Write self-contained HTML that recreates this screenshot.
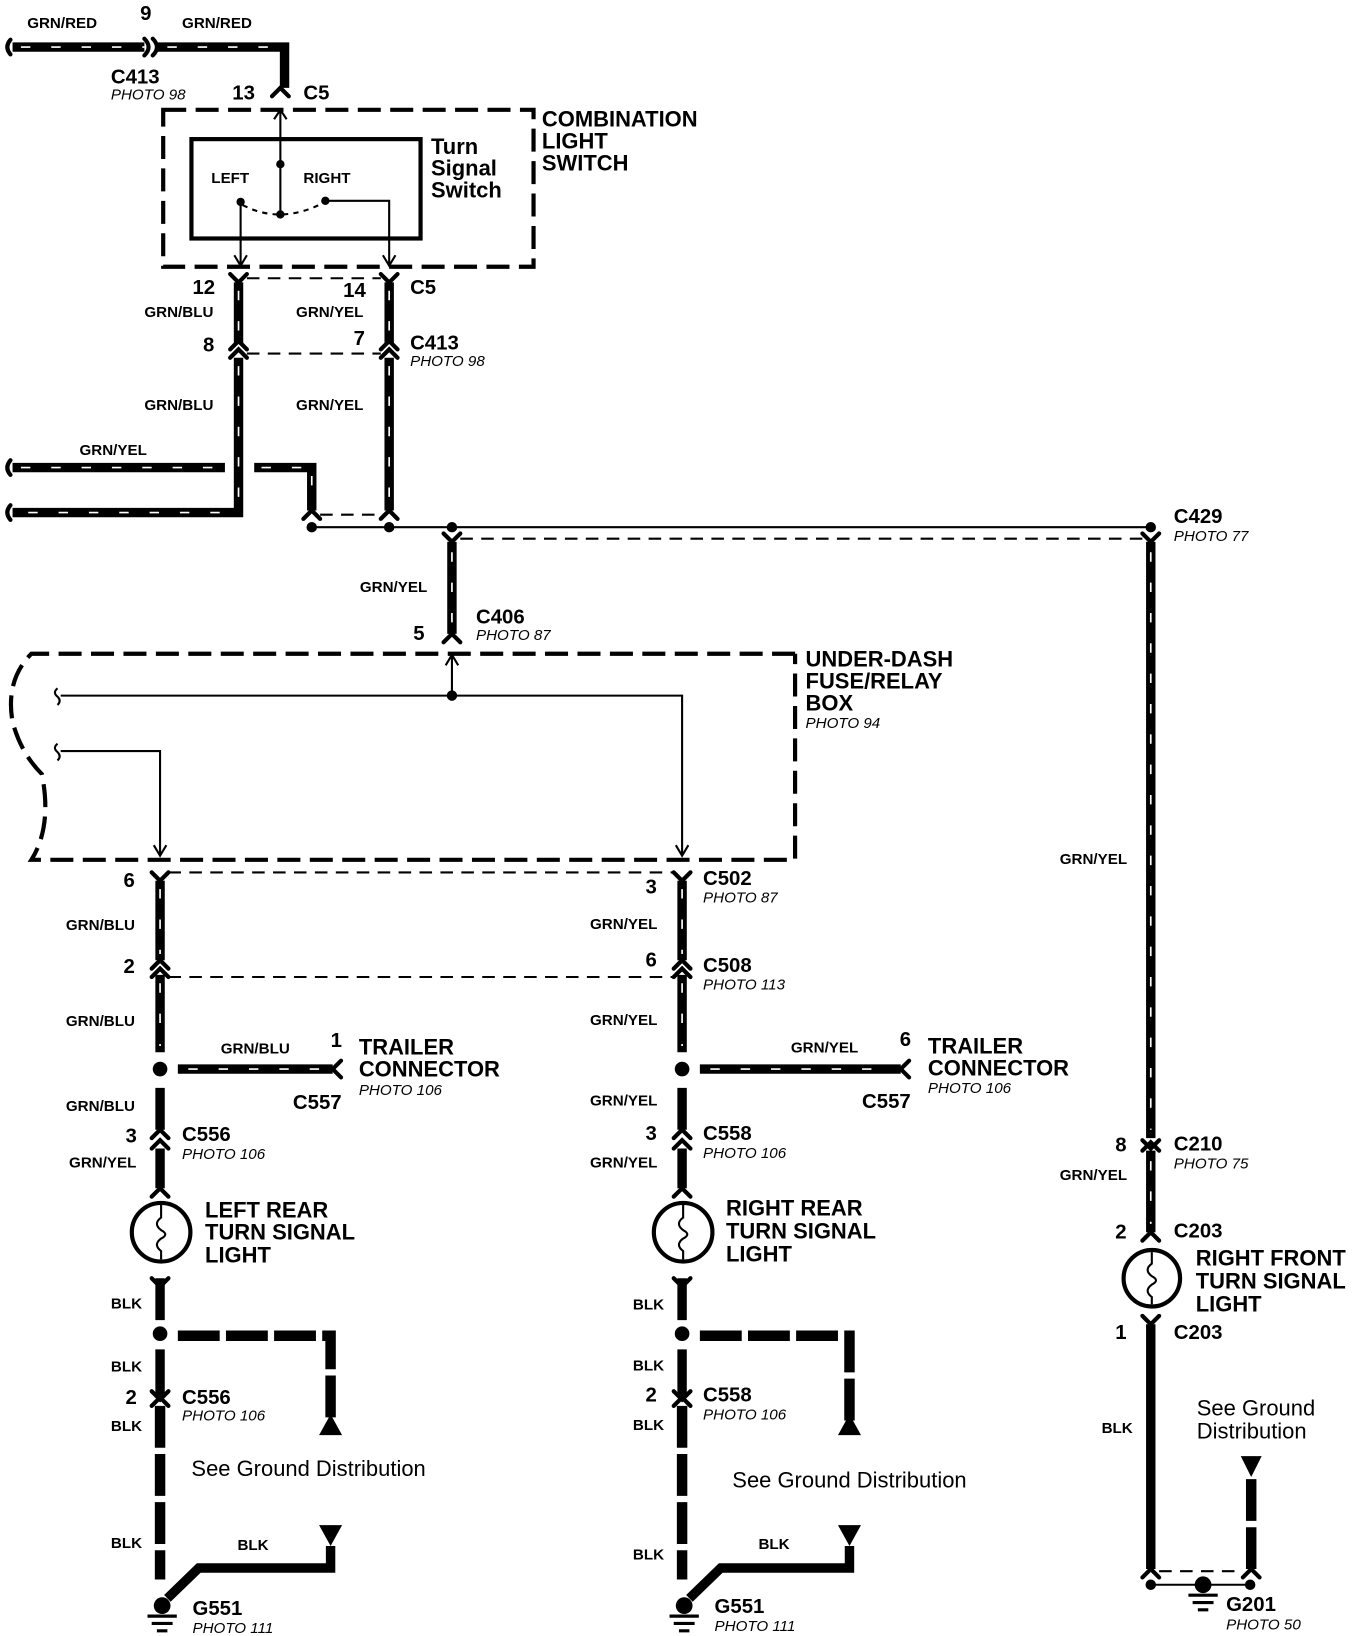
<!DOCTYPE html>
<html><head><meta charset="utf-8"><style>
html,body{margin:0;padding:0;background:#fff;}
svg{display:block}
text{font-family:"Liberation Sans",Arial,sans-serif;fill:#000}
.l{font-size:14.5px;font-weight:bold}
.c{font-size:19.5px;font-weight:bold}
.p{font-size:14.5px;font-style:italic}
.b{font-size:21px;font-weight:bold}
.g{font-size:21px}
.w{stroke:#000;stroke-width:9;fill:none}
.d{stroke:#fff;stroke-width:1.6;fill:none;stroke-dasharray:9 20}
.t{stroke:#000;stroke-width:2;fill:none}
.k{stroke:#000;stroke-width:2;fill:none;stroke-dasharray:12 8}
.kb{stroke:#000;stroke-width:4;fill:none;stroke-dasharray:22 9}
.bd{stroke:#000;stroke-width:10;fill:none;stroke-dasharray:40 6}
.cn{stroke:#000;stroke-width:4;fill:none;stroke-linecap:round}
</style></head><body>
<svg width="1360" height="1636" viewBox="0 0 1300 1564" preserveAspectRatio="none" xmlns="http://www.w3.org/2000/svg">
<path class="w" d="M12,45 H138"/><path class="d" d="M20,45 H138"/>
<path class="cn" d="M10,38 q-6,7 0,14"/>
<path class="cn" d="M138,37 q8,8 0,16 M146,37 q8,8 0,16"/>
<path class="w" d="M150,45 H272 V84"/><path class="d" d="M160,45 H265"/>
<path class="cn" d="M260,92 l8,-8 l8,8"/>
<text class="l" x="26" y="27">GRN/RED</text><text class="c" x="134" y="19">9</text>
<text class="l" x="174" y="27">GRN/RED</text>
<text class="c" x="106" y="80">C413</text><text class="p" x="106" y="95">PHOTO 98</text>
<text class="c" x="222" y="95">13</text><text class="c" x="290" y="95">C5</text>
<rect x="156" y="105" width="354" height="150" class="kb"/>
<rect x="183" y="133" width="219" height="95" stroke="#000" stroke-width="4" fill="none"/>
<text class="b" x="518" y="121">COMBINATION</text><text class="b" x="518" y="142">LIGHT</text><text class="b" x="518" y="163">SWITCH</text>
<text class="b" x="412" y="147">Turn</text><text class="b" x="412" y="168">Signal</text><text class="b" x="412" y="189">Switch</text>
<text class="l" x="202" y="175">LEFT</text><text class="l" x="290" y="175">RIGHT</text>
<path class="t" d="M268,105 V205 M262,114 l6,-9 l6,9"/>
<circle cx="268" cy="157" r="4"/><circle cx="268" cy="205" r="4"/><circle cx="230" cy="193" r="4"/><circle cx="311" cy="192" r="4"/>
<path class="t" stroke-dasharray="5 5" d="M232,196 Q268,215 309,194"/>
<path class="t" d="M230,193 V254 M224,244 l6,10 l6,-10 M311,192 H372 V254 M366,244 l6,10 l6,-10"/>
<path class="cn" d="M220,262 l8,8 l8,-8 M364,262 l8,8 l8,-8"/>
<path class="w" d="M228,270 V328 M372,270 V328"/>
<path class="d" d="M228,278 V328 M372,278 V328" stroke-dasharray="8 26"/>
<path class="k" d="M236,266 H364 M236,338 H364"/>
<path class="cn" d="M220,334 l8,-8 l8,8 M364,334 l8,-8 l8,8 M220,342 l8,-8 l8,8 M364,342 l8,-8 l8,8"/>
<text class="c" x="184" y="281">12</text><text class="c" x="328" y="284">14</text><text class="c" x="392" y="281">C5</text>
<text class="l" x="138" y="303">GRN/BLU</text><text class="l" x="283" y="303">GRN/YEL</text>
<text class="c" x="194" y="336">8</text><text class="c" x="338" y="330">7</text>
<text class="c" x="392" y="334">C413</text><text class="p" x="392" y="350">PHOTO 98</text>
<text class="l" x="138" y="392">GRN/BLU</text><text class="l" x="283" y="392">GRN/YEL</text>
<path class="w" d="M228,342 V490 H12 M372,342 V488"/>
<path class="d" d="M228,350 V480 M372,350 V480 M210,490 H20" stroke-dasharray="8 26"/>
<path class="w" d="M12,447 H215 M243,447 H298 V488"/>
<path class="d" d="M20,447 H210 M250,447 H290 M298,455 V480" stroke-dasharray="9 22"/>
<path class="cn" d="M10,440 q-6,7 0,14 M10,483 q-6,7 0,14"/>
<text class="l" x="76" y="435">GRN/YEL</text>
<path class="cn" d="M290,496 l8,-8 l8,8 M364,496 l8,-8 l8,8"/>
<path class="k" d="M306,492 H364"/>
<path class="t" d="M298,504 H1100"/>
<circle cx="298" cy="504" r="5"/><circle cx="372" cy="504" r="5"/><circle cx="432" cy="504" r="5"/><circle cx="1100" cy="504" r="5"/>
<path class="k" d="M440,515 H1092"/>
<path class="cn" d="M424,510 l8,8 l8,-8 M1092,510 l8,8 l8,-8"/>
<text class="c" x="1122" y="500">C429</text><text class="p" x="1122" y="517">PHOTO 77</text>
<path class="w" d="M432,518 V606"/><path class="d" d="M432,528 V600" stroke-dasharray="8 26"/>
<path class="cn" d="M424,614 l8,-8 l8,8"/>
<text class="l" x="344" y="566">GRN/YEL</text>
<text class="c" x="455" y="596">C406</text><text class="p" x="455" y="612">PHOTO 87</text>
<text class="c" x="395" y="612">5</text>
<path class="w" d="M1100,518 V1088"/><path class="d" d="M1100,528 V1080" stroke-dasharray="8 26"/>
<path class="cn" d="M1092,1090 l8,8 l8,-8 M1092,1100 l8,-8 l8,8"/>
<path class="w" d="M1100,1100 V1178"/><path class="d" d="M1100,1110 V1170" stroke-dasharray="8 26"/>
<path class="cn" d="M1092,1186 l8,-8 l8,8"/>
<text class="l" x="1013" y="826">GRN/YEL</text>
<text class="c" x="1066" y="1101">8</text><text class="c" x="1122" y="1100">C210</text><text class="p" x="1122" y="1117">PHOTO 75</text>
<text class="l" x="1013" y="1128">GRN/YEL</text>
<text class="c" x="1066" y="1184">2</text><text class="c" x="1122" y="1183">C203</text>
<circle cx="1101" cy="1222" r="27" stroke="#000" stroke-width="4" fill="none"/>
<path class="t" d="M1101,1197 V1208 q-8,6 0,12 q8,4 0,8 q-8,6 0,12 V1247"/>
<text class="b" x="1143" y="1210">RIGHT FRONT</text><text class="b" x="1143" y="1232">TURN SIGNAL</text><text class="b" x="1143" y="1254">LIGHT</text>
<text class="c" x="1066" y="1280">1</text><text class="c" x="1122" y="1280">C203</text>
<path class="cn" d="M1092,1258 l8,8 l8,-8"/>
<path class="w" d="M1100,1266 V1500"/>
<text class="l" x="1053" y="1370">BLK</text>
<text class="g" x="1144" y="1353">See Ground</text><text class="g" x="1144" y="1375">Distribution</text>
<path d="M1186,1392 h20 l-10,20 z"/>
<path class="bd" d="M1196,1414 V1500"/>
<path class="cn" d="M1092,1508 l8,-8 l8,8 M1188,1508 l8,-8 l8,8"/>
<path class="k" d="M1108,1502 H1188"/>
<path class="t" d="M1100,1515 H1195"/><circle cx="1100" cy="1515" r="5"/><circle cx="1195" cy="1515" r="5"/><circle cx="1150" cy="1515" r="8"/>
<path stroke="#000" stroke-width="3" d="M1136,1525 H1164 M1140,1532 H1160 M1145,1539 H1155"/>
<text class="c" x="1172" y="1540">G201</text><text class="p" x="1172" y="1558">PHOTO 50</text>
<path class="kb" d="M760,625 H30 Q5,650 12,690 Q20,720 40,740 Q50,790 30,822 H760 V625"/>
<text class="b" x="770" y="637">UNDER-DASH</text><text class="b" x="770" y="658">FUSE/RELAY</text><text class="b" x="770" y="679">BOX</text>
<text class="p" x="770" y="696">PHOTO 94</text>
<path class="t" d="M58,665 H652 V818 M646,808 l6,10 l6,-10 M432,665 V626 M426,636 l6,-10 l6,10 M58,718 H153 V818 M147,808 l6,10 l6,-10"/>
<circle cx="432" cy="665" r="5"/>
<path class="t" d="M55,658 q-5,4 0,8 q4,4 0,8 M55,711 q-5,4 0,8 q4,4 0,8"/>
<g>
<path class="cn" d="M145,834 l8,8 l8,-8"/>
<path class="k" d="M161,834 H644"/>
<path class="k" d="M161,934 H644"/>
<path class="w" d="M153,842 V918 M153,932 V1006 M153,1040 V1080 M153,1098 V1136 M153,1222 V1262"/>
<path class="d" d="M153,850 V912 M153,940 V1000" stroke-dasharray="8 26"/>
<path class="cn" d="M145,926 l8,-8 l8,8 M145,934 l8,-8 l8,8 M145,1088 l8,-8 l8,8 M145,1098 l8,-8 l8,8 M145,1144 l8,-8 l8,8 M145,1222 l8,8 l8,-8"/>
<circle cx="153" cy="1022" r="7"/><circle cx="153" cy="1275" r="7"/>
<path class="w" d="M170,1022 H318"/><path class="d" d="M180,1022 H310"/>
<path class="cn" d="M326,1014 l-8,8 l8,8"/>
<circle cx="154" cy="1178" r="28" stroke="#000" stroke-width="4" fill="none"/>
<path class="t" d="M154,1152 V1164 q-8,6 0,12 q8,4 0,8 q-8,6 0,12 V1204"/>
<path class="w" d="M153,1290 V1334"/>
<path class="cn" d="M145,1330 l8,8 l8,-8 M145,1344 l8,-8 l8,8"/>
<path class="bd" d="M153,1344 V1510" stroke-width="9"/>
<path class="bd" d="M170,1277 H316 V1358" stroke-width="9" stroke-dasharray="34 6"/>
<path d="M305,1372 h22 l-11,-20 z"/>
<path d="M305,1458 h22 l-11,20 z"/>
<path class="w" d="M316,1478 V1499 H190 L160,1528"/>
<circle cx="155" cy="1535" r="8"/>
<path stroke="#000" stroke-width="3" d="M141,1545 H169 M145,1552 H165 M150,1559 H160"/>
</g>
<g transform="translate(499,0)">
<path class="w" d="M153,842 V918 M153,932 V1006 M153,1040 V1080 M153,1098 V1136 M153,1222 V1262"/>
<path class="d" d="M153,850 V912 M153,940 V1000" stroke-dasharray="8 26"/>
<path class="cn" d="M145,834 l8,8 l8,-8 M145,926 l8,-8 l8,8 M145,934 l8,-8 l8,8 M145,1088 l8,-8 l8,8 M145,1098 l8,-8 l8,8 M145,1144 l8,-8 l8,8 M145,1222 l8,8 l8,-8"/>
<circle cx="153" cy="1022" r="7"/><circle cx="153" cy="1275" r="7"/>
<path class="w" d="M170,1022 H362"/><path class="d" d="M180,1022 H354"/>
<path class="cn" d="M370,1014 l-8,8 l8,8"/>
<circle cx="154" cy="1178" r="28" stroke="#000" stroke-width="4" fill="none"/>
<path class="t" d="M154,1152 V1164 q-8,6 0,12 q8,4 0,8 q-8,6 0,12 V1204"/>
<path class="w" d="M153,1290 V1334"/>
<path class="cn" d="M145,1330 l8,8 l8,-8 M145,1344 l8,-8 l8,8"/>
<path class="bd" d="M153,1344 V1510" stroke-width="9"/>
<path class="bd" d="M170,1277 H313 V1358" stroke-width="9" stroke-dasharray="34 6"/>
<path d="M302,1372 h22 l-11,-20 z"/>
<path d="M302,1458 h22 l-11,20 z"/>
<path class="w" d="M313,1478 V1499 H190 L160,1528"/>
<circle cx="155" cy="1535" r="8"/>
<path stroke="#000" stroke-width="3" d="M141,1545 H169 M145,1552 H165 M150,1559 H160"/>
</g>
<text class="c" x="118" y="848">6</text><text class="l" x="63" y="889">GRN/BLU</text>
<text class="c" x="118" y="930">2</text><text class="l" x="63" y="981">GRN/BLU</text>
<text class="l" x="211" y="1007">GRN/BLU</text><text class="c" x="316" y="1001">1</text>
<text class="b" x="343" y="1008">TRAILER</text><text class="b" x="343" y="1029">CONNECTOR</text>
<text class="c" x="280" y="1060">C557</text><text class="p" x="343" y="1047">PHOTO 106</text>
<text class="l" x="63" y="1062">GRN/BLU</text>
<text class="c" x="120" y="1092">3</text><text class="c" x="174" y="1091">C556</text><text class="p" x="174" y="1108">PHOTO 106</text>
<text class="l" x="66" y="1116">GRN/YEL</text>
<text class="b" x="196" y="1164">LEFT REAR</text><text class="b" x="196" y="1185">TURN SIGNAL</text><text class="b" x="196" y="1207">LIGHT</text>
<text class="l" x="106" y="1251">BLK</text><text class="l" x="106" y="1311">BLK</text>
<text class="c" x="120" y="1342">2</text><text class="c" x="174" y="1342">C556</text><text class="p" x="174" y="1358">PHOTO 106</text>
<text class="l" x="106" y="1368">BLK</text>
<text class="g" x="183" y="1411">See Ground Distribution</text>
<text class="l" x="106" y="1480">BLK</text><text class="l" x="227" y="1482">BLK</text>
<text class="c" x="184" y="1544">G551</text><text class="p" x="184" y="1561">PHOTO 111</text>
<text class="c" x="617" y="854">3</text><text class="c" x="672" y="846">C502</text><text class="p" x="672" y="863">PHOTO 87</text>
<text class="l" x="564" y="888">GRN/YEL</text>
<text class="c" x="617" y="924">6</text><text class="c" x="672" y="929">C508</text><text class="p" x="672" y="946">PHOTO 113</text>
<text class="l" x="564" y="980">GRN/YEL</text>
<text class="l" x="756" y="1006">GRN/YEL</text><text class="c" x="860" y="1000">6</text>
<text class="b" x="887" y="1007">TRAILER</text><text class="b" x="887" y="1028">CONNECTOR</text>
<text class="c" x="824" y="1059">C557</text><text class="p" x="887" y="1045">PHOTO 106</text>
<text class="l" x="564" y="1057">GRN/YEL</text>
<text class="c" x="617" y="1090">3</text><text class="c" x="672" y="1090">C558</text><text class="p" x="672" y="1107">PHOTO 106</text>
<text class="l" x="564" y="1116">GRN/YEL</text>
<text class="b" x="694" y="1162">RIGHT REAR</text><text class="b" x="694" y="1184">TURN SIGNAL</text><text class="b" x="694" y="1206">LIGHT</text>
<text class="l" x="605" y="1252">BLK</text><text class="l" x="605" y="1310">BLK</text>
<text class="c" x="617" y="1340">2</text><text class="c" x="672" y="1340">C558</text><text class="p" x="672" y="1357">PHOTO 106</text>
<text class="l" x="605" y="1367">BLK</text>
<text class="g" x="700" y="1422">See Ground Distribution</text>
<text class="l" x="605" y="1491">BLK</text><text class="l" x="725" y="1481">BLK</text>
<text class="c" x="683" y="1542">G551</text><text class="p" x="683" y="1559">PHOTO 111</text>
</svg>
</body></html>
